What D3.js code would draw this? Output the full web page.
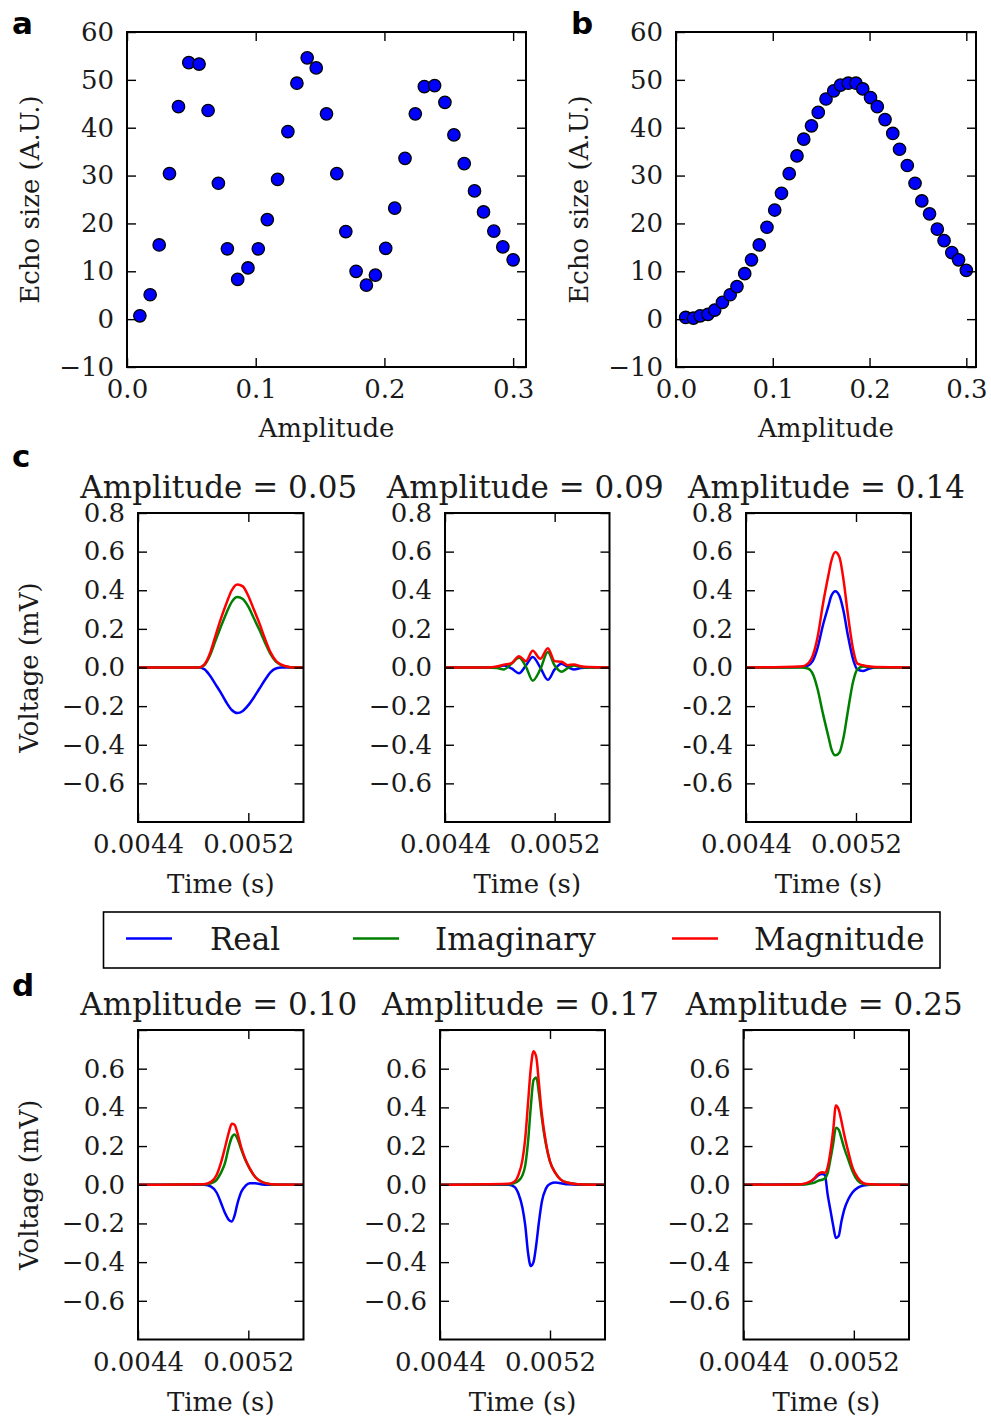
<!DOCTYPE html>
<html><head><meta charset="utf-8">
<script src="https://cdn.jsdelivr.net/npm/d3@7"></script>
<style>
body{margin:0;background:#fff;}
</style>
</head><body>
<svg id="chart" width="991" height="1417"></svg>
<script>
// ---------------- DATA ----------------
const amplitude = [0.010, 0.018, 0.025, 0.033, 0.040, 0.048, 0.056, 0.063, 0.071, 0.078, 0.086, 0.094, 0.102, 0.109, 0.117, 0.125, 0.132, 0.140, 0.147, 0.155, 0.163, 0.170, 0.178, 0.186, 0.193, 0.201, 0.208, 0.216, 0.224, 0.231, 0.239, 0.247, 0.254, 0.262, 0.270, 0.277, 0.285, 0.292, 0.300];
const echoA = [0.7, 5.1, 15.5, 30.4, 44.4, 53.6, 53.3, 43.6, 28.4, 14.7, 8.3, 10.7, 14.7, 20.8, 29.2, 39.2, 49.3, 54.6, 52.5, 42.9, 30.4, 18.3, 10.0, 7.1, 9.2, 14.8, 23.2, 33.6, 42.9, 48.6, 48.8, 45.3, 38.5, 32.5, 26.8, 22.4, 18.4, 15.1, 12.4];
const echoB = [0.35, 0.2, 0.7, 1.0, 1.9, 3.5, 5.1, 6.8, 9.5, 12.4, 15.5, 19.2, 22.8, 26.3, 30.4, 34.1, 37.6, 40.4, 43.2, 46.0, 47.7, 48.9, 49.3, 49.3, 48.1, 46.3, 44.4, 41.7, 38.8, 35.5, 32.1, 28.4, 24.7, 22.0, 18.8, 16.4, 13.9, 12.4, 10.2];

const ampTicks = [0.0, 0.1, 0.2, 0.3];
const ampTickLabels = ["0.0", "0.1", "0.2", "0.3"];
const echoTicks = [-10, 0, 10, 20, 30, 40, 50, 60];
const echoTickLabels = ["\u221210", "0", "10", "20", "30", "40", "50", "60"];

const timeTicks = [0.0044, 0.0052];
const timeTickLabels = ["0.0044", "0.0052"];
const voltTicksC = [0.8, 0.6, 0.4, 0.2, 0.0, -0.2, -0.4, -0.6];
const voltLabelsC = ["0.8", "0.6", "0.4", "0.2", "0.0", "\u22120.2", "\u22120.4", "\u22120.6"];
const voltLabelsC3 = ["0.8", "0.6", "0.4", "0.2", "0.0", "-0.2", "-0.4", "-0.6"];
const voltTicksD = [0.6, 0.4, 0.2, 0.0, -0.2, -0.4, -0.6];
const voltLabelsD = ["0.6", "0.4", "0.2", "0.0", "\u22120.2", "\u22120.4", "\u22120.6"];

const titlesC = ["Amplitude = 0.05", "Amplitude = 0.09", "Amplitude = 0.14"];
const titlesD = ["Amplitude = 0.10", "Amplitude = 0.17", "Amplitude = 0.25"];

const seriesNames = ["Real", "Imaginary", "Magnitude"];
const seriesColors = ["#0000ff", "#008000", "#ff0000"];

// c, amplitude 0.05
const c1Time = [0.0044, 0.00484, 0.00488, 0.00492, 0.00496, 0.00500, 0.00504, 0.00508, 0.00512, 0.00516, 0.00520, 0.00524, 0.00528, 0.00532, 0.00536, 0.00540, 0.00544, 0.00548, 0.00552, 0.0056];
const c1Real = [0, 0, -0.008, -0.04, -0.085, -0.13, -0.18, -0.22, -0.236, -0.225, -0.195, -0.155, -0.11, -0.065, -0.025, -0.005, 0, 0, 0, 0];
const c1Imag = [0, 0, 0.012, 0.06, 0.135, 0.21, 0.28, 0.34, 0.365, 0.355, 0.315, 0.255, 0.195, 0.13, 0.07, 0.03, 0.012, 0.004, 0, 0];
const c1Mag  = [0, 0, 0.015, 0.07, 0.16, 0.25, 0.33, 0.40, 0.43, 0.42, 0.37, 0.30, 0.23, 0.15, 0.08, 0.035, 0.015, 0.005, 0, 0];
// c, amplitude 0.09
const c2Time = [0.0044, 0.0047, 0.00478, 0.00483, 0.004885, 0.00494, 0.00499, 0.00504, 0.005095, 0.00515, 0.0052, 0.00525, 0.005295, 0.00534, 0.00539, 0.00545, 0.0056];
const c2Real = [0, 0, 0.003, 0.01, -0.005, -0.03, 0.01, 0.055, 0, -0.064, -0.01, 0.02, 0.003, -0.01, -0.003, 0, 0];
const c2Imag = [0, 0, -0.003, -0.01, 0.02, 0.05, 0.005, -0.068, -0.01, 0.08, 0.01, -0.022, -0.003, 0.01, 0.003, 0, 0];
const c2Mag  = [0, 0, 0.005, 0.014, 0.022, 0.058, 0.033, 0.087, 0.045, 0.10, 0.033, 0.03, 0.012, 0.016, 0.006, 0.002, 0];
// c, amplitude 0.14
const c3Time = [0.0044, 0.00480, 0.00485, 0.00489, 0.00492, 0.00496, 0.00500, 0.00502, 0.00505, 0.00508, 0.00511, 0.00514, 0.00518, 0.00521, 0.00525, 0.00529, 0.00534, 0.0056];
const c3Real = [0, 0.003, 0.01, 0.04, 0.10, 0.22, 0.32, 0.37, 0.395, 0.37, 0.29, 0.17, 0.04, -0.01, -0.018, -0.008, 0, 0];
const c3Imag = [0, 0, -0.005, -0.04, -0.11, -0.24, -0.36, -0.42, -0.455, -0.44, -0.36, -0.23, -0.07, -0.01, 0.005, 0.002, 0, 0];
const c3Mag  = [0, 0.005, 0.02, 0.07, 0.155, 0.33, 0.48, 0.55, 0.598, 0.57, 0.45, 0.28, 0.09, 0.02, 0.012, 0.006, 0.002, 0];
// d, amplitude 0.10
const d1Time = [0.0044, 0.00488, 0.00493, 0.00497, 0.00500, 0.00503, 0.00506, 0.00508, 0.00510, 0.00512, 0.00515, 0.00518, 0.00521, 0.00525, 0.00529, 0.00534, 0.0054, 0.0056];
const d1Real = [0, 0, -0.01, -0.04, -0.09, -0.145, -0.183, -0.19, -0.16, -0.1, -0.035, -0.005, 0.008, 0.008, 0.003, 0, 0, 0];
const d1Imag = [0, 0.002, 0.008, 0.025, 0.06, 0.11, 0.2, 0.245, 0.26, 0.24, 0.18, 0.125, 0.083, 0.04, 0.018, 0.005, 0, 0];
const d1Mag  = [0, 0.003, 0.015, 0.05, 0.11, 0.19, 0.275, 0.315, 0.31, 0.27, 0.19, 0.13, 0.085, 0.04, 0.018, 0.005, 0.001, 0];
// d, amplitude 0.17
const d2Time = [0.0044, 0.00490, 0.00494, 0.00497, 0.00500, 0.00502, 0.00504, 0.00506, 0.00508, 0.00510, 0.00512, 0.00514, 0.00517, 0.00520, 0.00524, 0.00528, 0.00533, 0.0054, 0.0056];
const d2Real = [0, 0, -0.01, -0.045, -0.12, -0.21, -0.35, -0.42, -0.40, -0.31, -0.19, -0.09, -0.02, 0.005, 0.012, 0.008, 0.002, 0, 0];
const d2Imag = [0, 0.002, 0.008, 0.02, 0.05, 0.10, 0.22, 0.40, 0.54, 0.555, 0.47, 0.35, 0.21, 0.12, 0.06, 0.025, 0.01, 0.003, 0];
const d2Mag  = [0, 0.005, 0.015, 0.05, 0.13, 0.24, 0.42, 0.60, 0.69, 0.66, 0.52, 0.37, 0.22, 0.12, 0.06, 0.025, 0.01, 0.003, 0];
// d, amplitude 0.25
const d3Time = [0.0044, 0.00482, 0.00487, 0.00491, 0.00494, 0.00497, 0.00499, 0.00501, 0.00503, 0.00505, 0.00507, 0.00509, 0.00511, 0.00513, 0.00516, 0.00519, 0.00523, 0.00527, 0.00532, 0.0054, 0.0056];
const d3Real = [0, 0.002, 0.01, 0.028, 0.048, 0.055, 0.05, -0.05, -0.13, -0.21, -0.275, -0.265, -0.19, -0.13, -0.075, -0.04, -0.015, -0.004, 0, 0, 0];
const d3Imag = [0, 0.001, 0.004, 0.01, 0.02, 0.026, 0.032, 0.06, 0.13, 0.21, 0.295, 0.285, 0.24, 0.19, 0.13, 0.07, 0.02, 0.004, 0, 0, 0];
const d3Mag  = [0, 0.003, 0.012, 0.03, 0.055, 0.065, 0.062, 0.09, 0.17, 0.28, 0.41, 0.39, 0.33, 0.26, 0.17, 0.09, 0.035, 0.008, 0.002, 0, 0];

// ---------------- DRAWING ----------------
const svg = d3.select("#chart");
const FONT = "DejaVu Serif";
const TXT = "#1a1a1a";
let clipId = 0;

function makeAxes(cfg) {
  const x = d3.scaleLinear().domain(cfg.xDomain).range([cfg.x0, cfg.x1]);
  const y = d3.scaleLinear().domain(cfg.yDomain).range([cfg.y1, cfg.y0]);
  const g = svg.append("g").attr("font-family", FONT);
  const id = "clip" + (clipId++);
  svg.append("clipPath").attr("id", id).append("rect")
    .attr("x", cfg.x0).attr("y", cfg.y0).attr("width", cfg.x1 - cfg.x0).attr("height", cfg.y1 - cfg.y0);
  const plot = g.append("g").attr("clip-path", cfg.clip ? `url(#${id})` : null);
  const styleAxis = sel => {
    sel.select(".domain").remove();
    sel.selectAll("line").attr("stroke", "#000").attr("stroke-width", 1.4);
    sel.attr("font-family", FONT).attr("font-size", 26);
    sel.selectAll("text").attr("fill", TXT);
  };
  const T = 9;
  g.append("g").attr("transform", `translate(0,${cfg.y1})`)
    .call(d3.axisBottom(x).tickValues(cfg.xTicks).tickFormat((d, i) => cfg.xLabels[i]).tickSizeInner(-T).tickSizeOuter(0).tickPadding(13))
    .call(styleAxis);
  g.append("g").attr("transform", `translate(0,${cfg.y0})`)
    .call(d3.axisTop(x).tickValues(cfg.xTicks).tickFormat("").tickSizeInner(-T).tickSizeOuter(0))
    .call(styleAxis);
  g.append("g").attr("transform", `translate(${cfg.x0},0)`)
    .call(d3.axisLeft(y).tickValues(cfg.yTicksMarks || cfg.yTicks).tickFormat(d => {
        const i = cfg.yTicks.indexOf(d); return i >= 0 ? cfg.yLabels[i] : ""; })
      .tickSizeInner(-T).tickSizeOuter(0).tickPadding(13))
    .call(styleAxis);
  g.append("g").attr("transform", `translate(${cfg.x1},0)`)
    .call(d3.axisRight(y).tickValues(cfg.yTicksMarks || cfg.yTicks).tickFormat("").tickSizeInner(-T).tickSizeOuter(0))
    .call(styleAxis);
  const frame = g.append("rect").attr("x", cfg.x0).attr("y", cfg.y0)
    .attr("width", cfg.x1 - cfg.x0).attr("height", cfg.y1 - cfg.y0)
    .attr("fill", "none").attr("stroke", "#000").attr("stroke-width", 2);
  if (cfg.xTitle) {
    g.append("text").attr("x", (cfg.x0 + cfg.x1) / 2).attr("y", cfg.y1 + cfg.xTitleOff)
      .attr("text-anchor", "middle").attr("font-size", 26).attr("fill", TXT).text(cfg.xTitle);
  }
  if (cfg.yTitle) {
    const cy = (cfg.y0 + cfg.y1) / 2;
    g.append("text").attr("transform", `translate(${cfg.yTitleX},${cy}) rotate(-90)`)
      .attr("text-anchor", "middle").attr("font-size", 26).attr("fill", TXT).text(cfg.yTitle);
  }
  if (cfg.title) {
    g.append("text").attr("x", (cfg.x0 + cfg.x1) / 2 - 2).attr("y", cfg.y0 - 15)
      .attr("text-anchor", "middle").attr("font-size", 31).attr("fill", TXT).text(cfg.title);
  }
  return {x, y, plot, frame, g};
}

function panelLetter(ch, x, y) {
  svg.append("text").attr("x", x).attr("y", y).attr("font-family", "DejaVu Sans")
    .attr("font-weight", "bold").attr("font-size", 31).attr("fill", "#000").text(ch);
}

// ---- Panels a & b ----
function scatterPanel(x0, x1, vals) {
  const ax = makeAxes({x0, x1, y0: 32, y1: 367, xDomain: [0, 0.31], yDomain: [-10, 60],
    xTicks: ampTicks, xLabels: ampTickLabels, yTicks: echoTicks, yLabels: echoTickLabels,
    xTitle: "Amplitude", xTitleOff: 70, yTitle: "Echo size (A.U.)", yTitleX: x0 - 88, clip: false});
  ax.plot.selectAll("circle").data(amplitude).join("circle")
    .attr("cx", d => ax.x(d)).attr("cy", (d, i) => ax.y(vals[i])).attr("r", 6.2)
    .attr("fill", "#0000ff").attr("stroke", "#000").attr("stroke-width", 1.3);
  ax.frame.raise();
}
scatterPanel(127, 526, echoA);
scatterPanel(676, 976, echoB);
panelLetter("a", 12, 34);
panelLetter("b", 571, 34);

// ---- Panels c & d ----
const line = d3.line().curve(d3.curveMonotoneX);
function signalPanel(x0, x1, y0, y1, time, real, imag, mag, title, yTicks, yLabels, showY) {
  const ax = makeAxes({x0, x1, y0, y1, xDomain: [0.0044, 0.0056], yDomain: [-0.8, 0.8],
    xTicks: timeTicks, xLabels: timeTickLabels, yTicks, yLabels,
    yTicksMarks: voltTicksC,
    xTitle: "Time (s)", xTitleOff: 71, yTitle: showY ? "Voltage (mV)" : null, yTitleX: 38,
    title, clip: true});
  [real, imag, mag].forEach((vals, k) => {
    const pts = time.map((t, i) => [ax.x(t), ax.y(vals[i])]);
    ax.plot.append("path").attr("d", line(pts)).attr("fill", "none")
      .attr("stroke", seriesColors[k]).attr("stroke-width", 2.5).attr("stroke-linejoin", "round");
  });
  ax.frame.raise();
}
const cTop = 513, cBot = 822, dTop = 1030, dBot = 1339.5;
signalPanel(138, 303.5, cTop, cBot, c1Time, c1Real, c1Imag, c1Mag, titlesC[0], voltTicksC, voltLabelsC, true);
signalPanel(445, 609.5, cTop, cBot, c2Time, c2Real, c2Imag, c2Mag, titlesC[1], voltTicksC, voltLabelsC, false);
signalPanel(746, 911, cTop, cBot, c3Time, c3Real, c3Imag, c3Mag, titlesC[2], voltTicksC, voltLabelsC3, false);
signalPanel(138, 303.5, dTop, dBot, d1Time, d1Real, d1Imag, d1Mag, titlesD[0], voltTicksD, voltLabelsD, true);
signalPanel(440, 605, dTop, dBot, d2Time, d2Real, d2Imag, d2Mag, titlesD[1], voltTicksD, voltLabelsD, false);
signalPanel(743.5, 909, dTop, dBot, d3Time, d3Real, d3Imag, d3Mag, titlesD[2], voltTicksD, voltLabelsD, false);
panelLetter("c", 12, 467);
panelLetter("d", 12, 996);

// ---- Legend ----
const leg = svg.append("g").attr("font-family", FONT);
leg.append("rect").attr("x", 103.5).attr("y", 912).attr("width", 836.5).attr("height", 56)
  .attr("fill", "#fff").attr("stroke", "#000").attr("stroke-width", 1.6);
const legLineX = [126, 353, 672];
const legTextX = [210, 435, 754];
seriesNames.forEach((name, k) => {
  leg.append("line").attr("x1", legLineX[k]).attr("x2", legLineX[k] + 46)
    .attr("y1", 938.5).attr("y2", 938.5).attr("stroke", seriesColors[k]).attr("stroke-width", 2.5);
  leg.append("text").attr("x", legTextX[k]).attr("y", 950).attr("font-size", 31)
    .attr("fill", TXT).text(name);
});
</script>
</body></html>
